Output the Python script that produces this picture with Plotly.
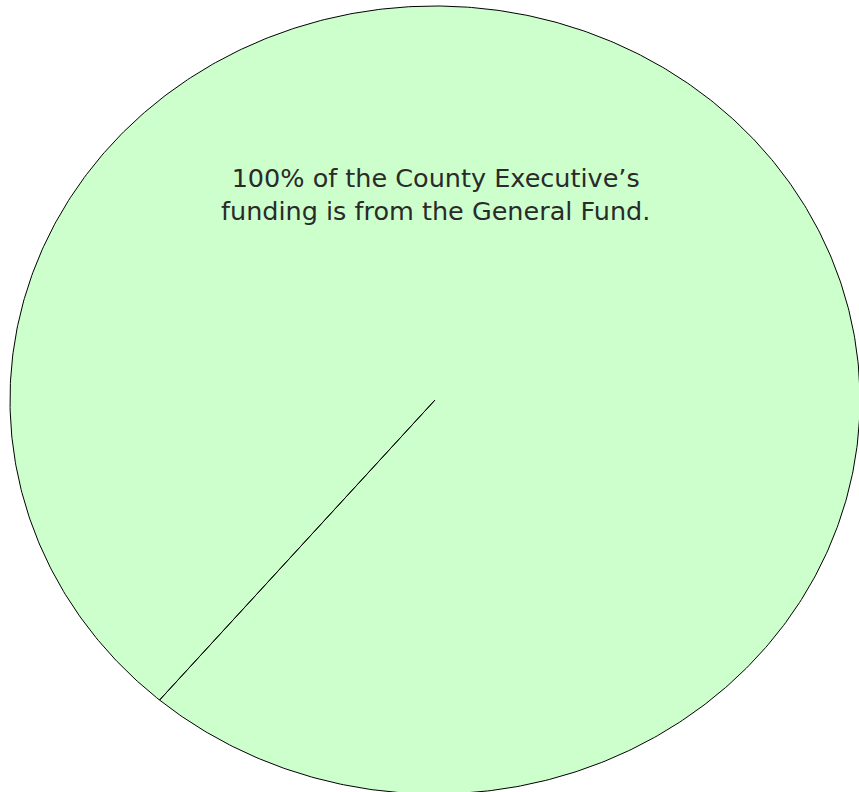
import numpy as np
import plotly.graph_objects as go

labels = ["General Fund"]
values = [100]
start_angle_deg = 229.6
caption = "100% of the County Executive’s<br>funding is from the General Fund."

fig = go.Figure()

total = sum(values)
angle = np.deg2rad(start_angle_deg)
for lab, v in zip(labels, values):
    sweep = 2 * np.pi * v / total
    t = np.linspace(angle, angle - sweep, 721)
    xs = np.concatenate([[0], np.cos(t), [0]])
    ys = np.concatenate([[0], np.sin(t), [0]])
    fig.add_trace(go.Scatter(x=xs, y=ys, mode="lines", fill="toself",
                             fillcolor="#ccffcc", line=dict(color="black", width=1),
                             name=lab, hoverinfo="name", showlegend=False))
    angle -= sweep

fig.add_annotation(x=0, y=0.522, xref="x", yref="y", text=caption, showarrow=False,
                   font=dict(family="DejaVu Sans", size=25.5, color="#2a2a2a"), align="center")

fig.update_layout(
    width=859, height=792, margin=dict(l=0, r=0, t=0, b=0),
    paper_bgcolor="white", plot_bgcolor="white",
    xaxis=dict(range=[-435 / 425, 424 / 425], visible=False, fixedrange=True),
    yaxis=dict(range=[-392 / 394, 400 / 394], visible=False, fixedrange=True),
)
fig.write_html("out.html", config={"displayModeBar": False},
               post_script="document.body.style.margin='0';document.body.style.overflow='hidden';")
